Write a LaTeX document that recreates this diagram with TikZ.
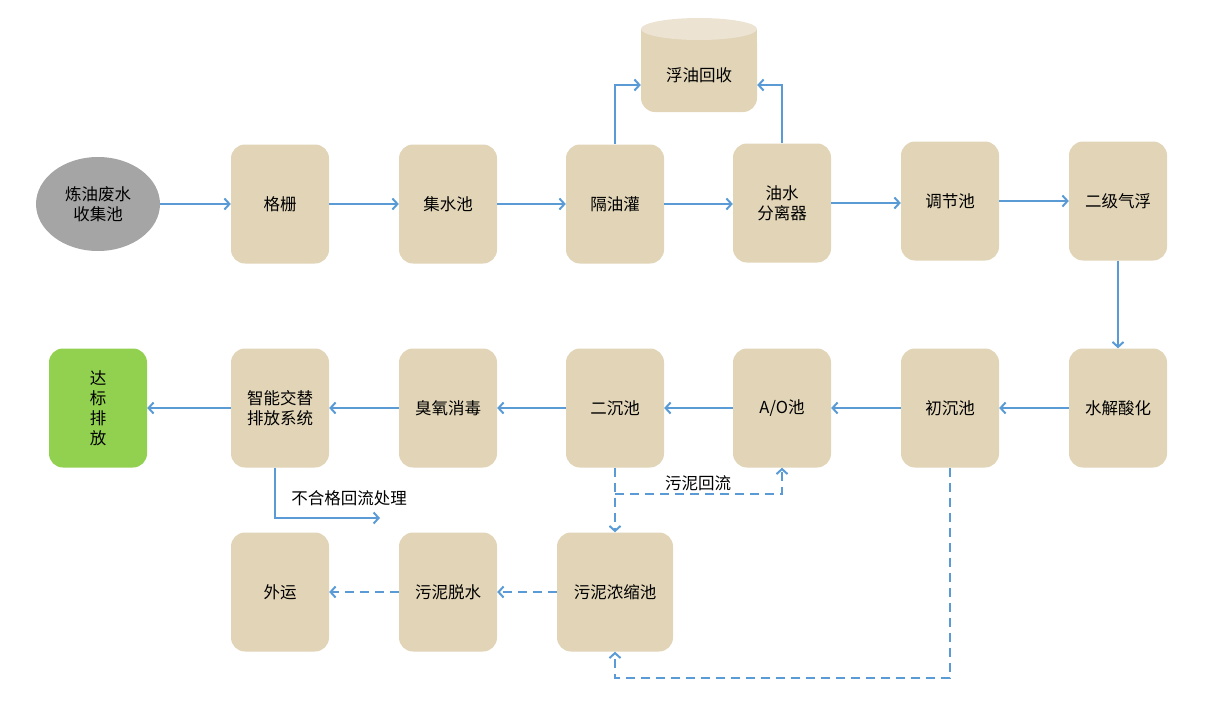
\documentclass[tikz,border=0pt]{standalone}
\usepackage{fontspec}
\setmainfont{Noto Sans CJK SC}
\usetikzlibrary{arrows.meta, shapes.geometric}
\definecolor{boxtan}{HTML}{E1D4B7}
\definecolor{tanlight}{HTML}{ECE3D2}
\definecolor{flowblue}{HTML}{5B9BD5}
\definecolor{srcgray}{HTML}{A5A5A5}
\definecolor{okgreen}{HTML}{92D050}
\begin{document}
\begin{tikzpicture}[x=1pt, y=-1pt,
    box/.style={fill=boxtan, rounded corners=14pt, minimum width=98pt, minimum height=119pt,
      align=center, font=\fontsize{16.5}{20}\selectfont},
    lbl/.style={font=\fontsize{16.5}{20}\selectfont},
    flow/.style={draw=flowblue, line width=2pt, -{Straight Barb[length=5pt,width=11pt]}},
    back/.style={flow, dash pattern=on 9pt off 6pt}]
    \useasboundingbox (0,0) rectangle (1225,701);

    % Oil tank
    \fill[boxtan, rounded corners=14pt] (641,29) rectangle (757,112);
    \fill[boxtan] (641,29) rectangle (757,60);
    \fill[tanlight] (699,29) ellipse [x radius=58, y radius=11];
    \node[lbl, minimum width=116pt] (oil) at (699,75) {浮油回收};

    % Nodes
    \node[ellipse, fill=srcgray, minimum width=124pt, minimum height=94pt, align=center,
      font=\fontsize{16.5}{20}\selectfont] (src) at (98,204) {炼油废水\\收集池};
    \node[box] (grid) at (280,204) {格栅};
    \node[box] (pool) at (448,204) {集水池};
    \node[box] (tank) at (615,204) {隔油灌};
    \node[box] (sepr) at (782,203) {油水\\分离器};
    \node[box] (adj) at (950,201) {调节池};
    \node[box] (float) at (1118,201) {二级气浮};

    \node[box, fill=okgreen] (out) at (98,408) {达\\标\\排\\放};
    \node[box] (smart) at (280,408) {智能交替\\排放系统};
    \node[box] (ozone) at (448,408) {臭氧消毒};
    \node[box] (sec) at (615,408) {二沉池};
    \node[box] (ao) at (782,408) {A/O池};
    \node[box] (prim) at (950,408) {初沉池};
    \node[box] (hydro) at (1118,408) {水解酸化};

    \node[box] (haul) at (280,592) {外运};
    \node[box] (dewat) at (448,592) {污泥脱水};
    \node[box, minimum width=116pt] (thick) at (615,592) {污泥浓缩池};

    % Arrows
    \draw[flow] (src) -- (grid);
    \draw[flow] (grid) -- (pool);
    \draw[flow] (pool) -- (tank);
    \draw[flow] (tank.east) -- (tank.east -| sepr.west);
    \draw[flow] (sepr.east) -- (sepr.east -| adj.west);
    \draw[flow] (adj) -- (float);
    \draw[flow] (tank.north) |- ([yshift=-10pt]oil.west);
    \draw[flow] (sepr.north) |- ([yshift=-10pt]oil.east);
    \draw[flow] (float) -- (hydro);
    \draw[flow] (hydro) -- (prim);
    \draw[flow] (prim) -- (ao);
    \draw[flow] (ao) -- (sec);
    \draw[flow] (sec) -- (ozone);
    \draw[flow] (ozone) -- (smart);
    \draw[flow] (smart) -- (out);
    \coordinate (reject) at (380,518);
    \draw[flow] ([xshift=-5pt]smart.south) |- (reject);
    \node[lbl] (rejtxt) at (349,498) {不合格回流处理};

    % Sludge lines
    \draw[back] (sec.south) -- (thick.north);
    \coordinate (split) at (615,494);
    \draw[back] (split) -| (ao.south);
    \node[lbl] (rettxt) at (698,483) {污泥回流};
    \draw[back] (thick) -- (dewat);
    \draw[back] (dewat) -- (haul);
    \coordinate (low) at (615,678);
    \draw[back] (prim.south) |- (low) -- (thick.south);
\end{tikzpicture}
\end{document}
